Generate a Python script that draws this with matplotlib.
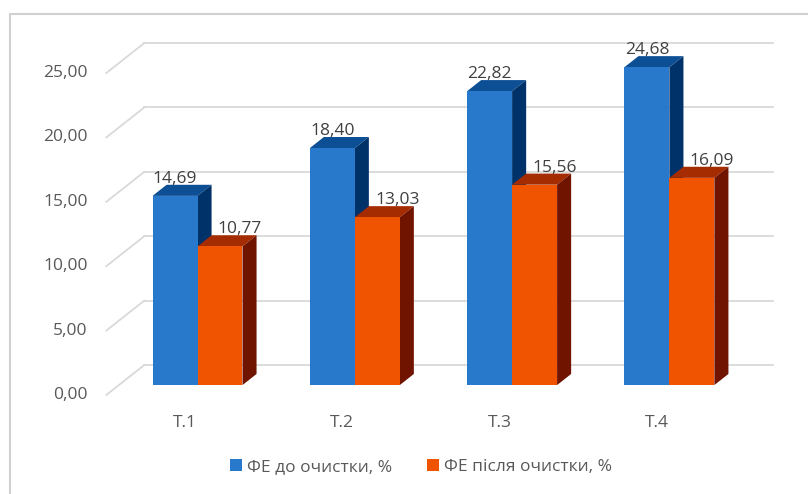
import matplotlib
matplotlib.use('Agg')
import matplotlib.pyplot as plt
from matplotlib.patches import Polygon, Rectangle, Patch

plt.rcParams['font.family'] = ['Open Sans', 'DejaVu Sans']

# Daten
categories = ['Т.1', 'Т.2', 'Т.3', 'Т.4']
before = [14.69, 18.40, 22.82, 24.68]
after = [10.77, 13.03, 15.56, 16.09]
series_names = ['ФЕ до очистки, %', 'ФЕ після очистки, %']
yticks = [0, 5, 10, 15, 20, 25]

# Farben (Vorderseite, Oberseite, Seite)
blue = ('#2878CC', '#0D4F94', '#00326A')
orange = ('#F05400', '#A52B00', '#701400')
grid_c = '#D9D9D9'
text_c = '#595959'


def fmt(v):
    return f'{v:.2f}'.replace('.', ',')


fig = plt.figure(figsize=(8.08, 4.94), dpi=100)
ax = fig.add_axes([0, 0, 1, 1])
ax.set_xlim(-1.176, 3.961)
ax.set_ylim(-7.69, 30.67)
ax.axis('off')

# Rahmen um das Diagramm
fig.patches.append(Rectangle((10 / 808, -0.1), 1.2, 1 - 14 / 494 + 0.1, transform=fig.transFigure,
                             fill=False, edgecolor='#D0D0D0', lw=1.5))

# Tiefe der pseudo-3D-Darstellung
DX, DY = 0.2416, 2.33
d0, d1 = 0.33, 0.70
bar_w = 0.286

for t in yticks:
    ax.plot([-0.5, -0.5 + DX], [t, t + DY], color=grid_c, lw=1.3, zorder=1)
    ax.plot([-0.5 + DX, 3.5 + DX], [t + DY, t + DY], color=grid_c, lw=1.3, zorder=1)
    ax.text(-0.62, t, fmt(t), ha='right', va='center', fontsize=12.5, color=text_c)


def box(x0, h, cols):
    xa = x0 + d0 * DX
    ya = d0 * DY
    ddx = (d1 - d0) * DX
    ddy = (d1 - d0) * DY
    top = [(xa, ya + h), (xa + bar_w, ya + h), (xa + bar_w + ddx, ya + h + ddy), (xa + ddx, ya + h + ddy)]
    side = [(xa + bar_w, ya), (xa + bar_w + ddx, ya + ddy), (xa + bar_w + ddx, ya + h + ddy), (xa + bar_w, ya + h)]
    front = [(xa, ya), (xa + bar_w, ya), (xa + bar_w, ya + h), (xa, ya + h)]
    ax.add_patch(Polygon(top, closed=True, facecolor=cols[1], edgecolor='none', zorder=2))
    ax.add_patch(Polygon(side, closed=True, facecolor=cols[2], edgecolor='none', zorder=2))
    ax.add_patch(Polygon(front, closed=True, facecolor=cols[0], edgecolor='none', zorder=2))
    return xa, ya + h + ddy


for i, cat in enumerate(categories):
    xb, yb = box(i - bar_w, before[i], blue)
    ax.text(xb + bar_w / 2, yb + 0.15, fmt(before[i]), ha='center', va='baseline',
            fontsize=12.5, color='#404040', zorder=3)
    xo, yo = box(i, after[i], orange)
    ax.text(xo + bar_w / 2 + 0.127, yo + 0.15, fmt(after[i]), ha='center', va='baseline',
            fontsize=12.5, color='#404040', zorder=3)
    ax.text(i, -2.17, cat, ha='center', va='center', fontsize=12.5, color=text_c)

handles = [Patch(facecolor=blue[0], label=series_names[0]),
           Patch(facecolor=orange[0], label=series_names[1])]
fig.legend(handles=handles, loc='center', bbox_to_anchor=(0.521, 0.0547), ncol=2, frameon=False,
           fontsize=12.5, handlelength=0.7, handleheight=0.7, handletextpad=0.3, columnspacing=2.0,
           labelcolor=text_c)

fig.savefig('out.png', dpi=100)
